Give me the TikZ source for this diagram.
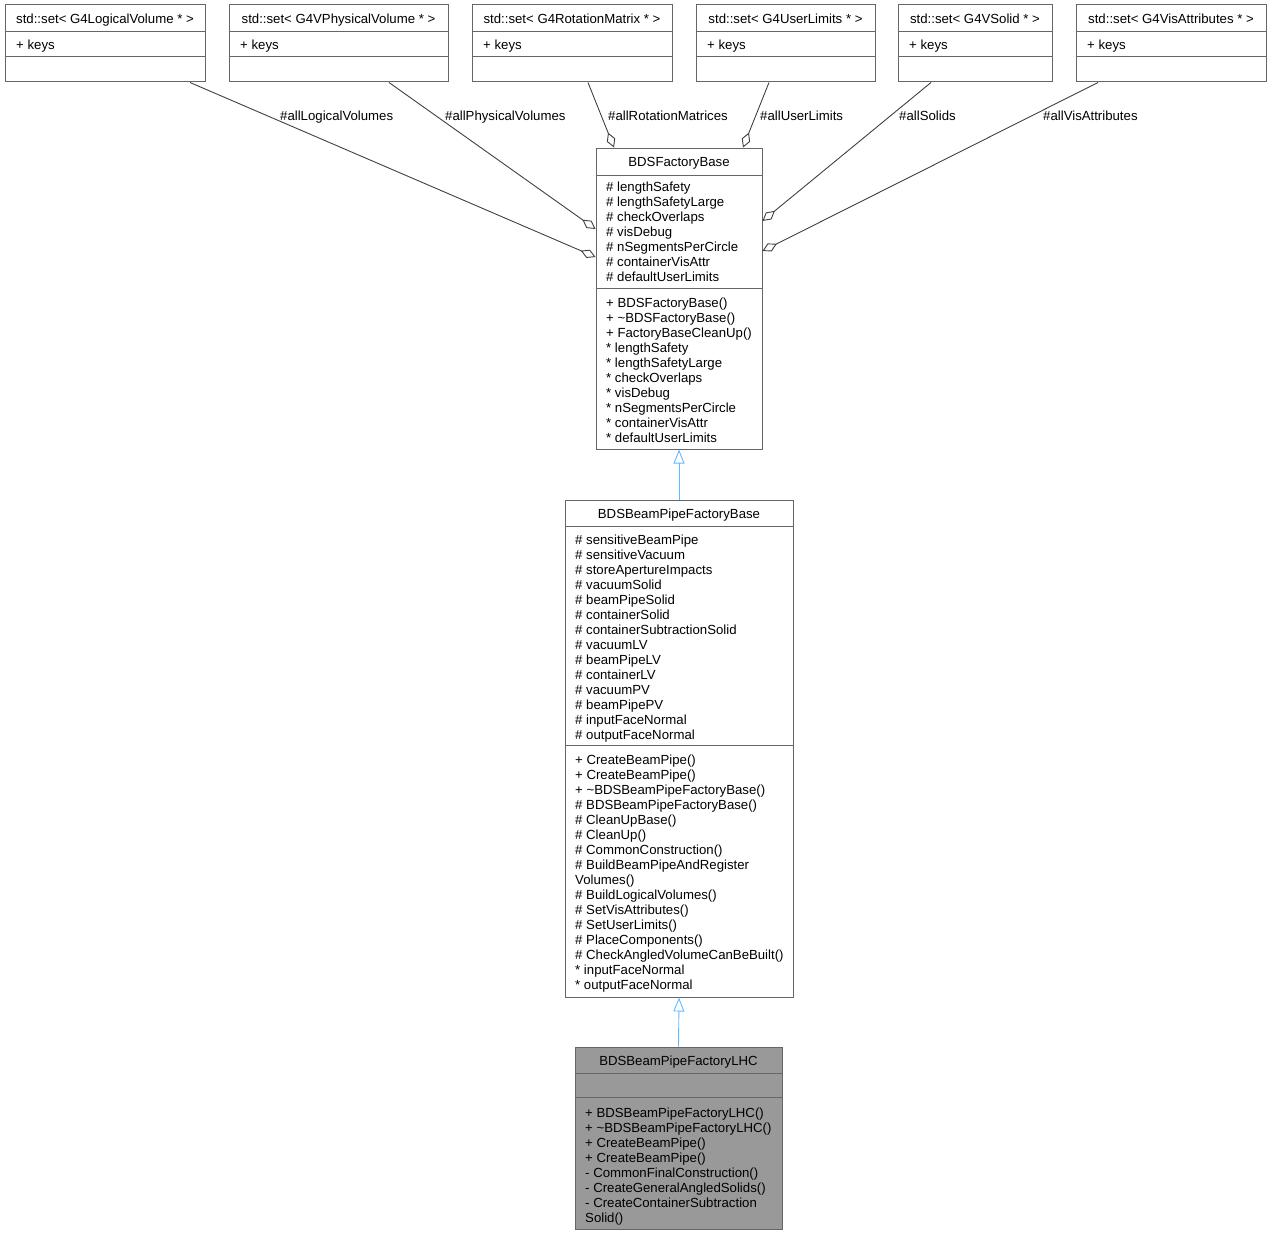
\documentclass[tikz,border=0pt]{standalone}
\usepackage{fontspec}
\setmainfont{Liberation Sans}
\usetikzlibrary{arrows.meta,calc}
\definecolor{boxgray}{HTML}{666666}
\definecolor{edgegray}{HTML}{404040}
\definecolor{lhcfill}{HTML}{999999}
\definecolor{inhblue}{HTML}{63B8FF}
\tikzset{
  cls/.style={draw=boxgray, line width=1pt, inner sep=0pt},
  sepline/.style={boxgray, line width=1pt},
  ttl/.style={font=\fontsize{13.2}{15}\selectfont, inner sep=0pt, text height=9.4pt, text depth=0pt},
  mem/.style={font=\fontsize{13.2}{15}\selectfont, inner sep=0pt, anchor=north west, align=left},
  elabel/.style={ttl, anchor=west},
  aggr/.style={edgegray, line width=0.9pt, -{Diamond[open,length=16pt,width=9pt]}},
  inherit/.style={inhblue, line width=0.9pt, -{Triangle[open,length=14pt,width=11pt]}},
}
\begin{document}
\begin{tikzpicture}[x=1pt,y=-1pt]
\useasboundingbox (0,0) rectangle (1271,1236);
% std::set boxes along the top
\node[cls, minimum width=200, minimum height=77] (lv) at (105,43.5) {};
\node[cls, minimum width=219, minimum height=77] (pv) at (338.5,43.5) {};
\node[cls, minimum width=200, minimum height=77] (rm) at (572,43.5) {};
\node[cls, minimum width=179, minimum height=77] (ul) at (785.5,43.5) {};
\node[cls, minimum width=154, minimum height=77] (so) at (975,43.5) {};
\node[cls, minimum width=190, minimum height=77] (va) at (1171,43.5) {};
\draw[sepline] ($(lv.north west)+(0,27)$) -- ($(lv.north east)+(0,27)$);
\draw[sepline] ($(lv.north west)+(0,52)$) -- ($(lv.north east)+(0,52)$);
\draw[sepline] ($(pv.north west)+(0,27)$) -- ($(pv.north east)+(0,27)$);
\draw[sepline] ($(pv.north west)+(0,52)$) -- ($(pv.north east)+(0,52)$);
\draw[sepline] ($(rm.north west)+(0,27)$) -- ($(rm.north east)+(0,27)$);
\draw[sepline] ($(rm.north west)+(0,52)$) -- ($(rm.north east)+(0,52)$);
\draw[sepline] ($(ul.north west)+(0,27)$) -- ($(ul.north east)+(0,27)$);
\draw[sepline] ($(ul.north west)+(0,52)$) -- ($(ul.north east)+(0,52)$);
\draw[sepline] ($(so.north west)+(0,27)$) -- ($(so.north east)+(0,27)$);
\draw[sepline] ($(so.north west)+(0,52)$) -- ($(so.north east)+(0,52)$);
\draw[sepline] ($(va.north west)+(0,27)$) -- ($(va.north east)+(0,27)$);
\draw[sepline] ($(va.north west)+(0,52)$) -- ($(va.north east)+(0,52)$);
\node[ttl] (lvT) at (105,18.5) {std::set< G4LogicalVolume * >};
\node[ttl] (pvT) at (338.5,18.5) {std::set< G4VPhysicalVolume * >};
\node[ttl] (rmT) at (572,18.5) {std::set< G4RotationMatrix * >};
\node[ttl] (ulT) at (785.5,18.5) {std::set< G4UserLimits * >};
\node[ttl] (soT) at (975,18.5) {std::set< G4VSolid * >};
\node[ttl] (vaT) at (1171,18.5) {std::set< G4VisAttributes * >};
\node[ttl, anchor=west] (lvK) at (16,44.5) {+ keys};
\node[ttl, anchor=west] (pvK) at (240,44.5) {+ keys};
\node[ttl, anchor=west] (rmK) at (483,44.5) {+ keys};
\node[ttl, anchor=west] (ulK) at (707,44.5) {+ keys};
\node[ttl, anchor=west] (soK) at (909,44.5) {+ keys};
\node[ttl, anchor=west] (vaK) at (1087,44.5) {+ keys};

% BDSFactoryBase
\node[cls, minimum width=166, minimum height=301] (fb) at (679,298.5) {};
\draw[sepline] ($(fb.north west)+(0,28)$) -- ($(fb.north east)+(0,28)$);
\draw[sepline] ($(fb.north west)+(0,141)$) -- ($(fb.north east)+(0,141)$);
\node[ttl] (fbT) at (679,161.5) {BDSFactoryBase};
\node[mem] (fbA) at (606,182) {\# lengthSafety\\\# lengthSafetyLarge\\\# checkOverlaps\\\# visDebug\\\# nSegmentsPerCircle\\\# containerVisAttr\\\# defaultUserLimits};
\node[mem] (fbM) at (606,298) {+ BDSFactoryBase()\\+ \textasciitilde BDSFactoryBase()\\+ FactoryBaseCleanUp()\\* lengthSafety\\* lengthSafetyLarge\\* checkOverlaps\\* visDebug\\* nSegmentsPerCircle\\* containerVisAttr\\* defaultUserLimits};

% BDSBeamPipeFactoryBase
\node[cls, minimum width=228, minimum height=497] (bpfb) at (679,748.5) {};
\draw[sepline] ($(bpfb.north west)+(0,27)$) -- ($(bpfb.north east)+(0,27)$);
\draw[sepline] ($(bpfb.north west)+(0,246)$) -- ($(bpfb.north east)+(0,246)$);
\node[ttl] (bpfbT) at (679,513.5) {BDSBeamPipeFactoryBase};
\node[mem] (bpfbA) at (575,535) {\# sensitiveBeamPipe\\\# sensitiveVacuum\\\# storeApertureImpacts\\\# vacuumSolid\\\# beamPipeSolid\\\# containerSolid\\\# containerSubtractionSolid\\\# vacuumLV\\\# beamPipeLV\\\# containerLV\\\# vacuumPV\\\# beamPipePV\\\# inputFaceNormal\\\# outputFaceNormal};
\node[mem] (bpfbM) at (575,755) {+ CreateBeamPipe()\\+ CreateBeamPipe()\\+ \textasciitilde BDSBeamPipeFactoryBase()\\\# BDSBeamPipeFactoryBase()\\\# CleanUpBase()\\\# CleanUp()\\\# CommonConstruction()\\\# BuildBeamPipeAndRegister\\Volumes()\\\# BuildLogicalVolumes()\\\# SetVisAttributes()\\\# SetUserLimits()\\\# PlaceComponents()\\\# CheckAngledVolumeCanBeBuilt()\\* inputFaceNormal\\* outputFaceNormal};

% BDSBeamPipeFactoryLHC
\node[cls, fill=lhcfill, minimum width=207, minimum height=182] (lhc) at (678.5,1138) {};
\draw[sepline] ($(lhc.north west)+(0,27)$) -- ($(lhc.north east)+(0,27)$);
\draw[sepline] ($(lhc.north west)+(0,51)$) -- ($(lhc.north east)+(0,51)$);
\node[ttl] (lhcT) at (678.5,1060.5) {BDSBeamPipeFactoryLHC};
\node[mem] (lhcM) at (585,1108) {+ BDSBeamPipeFactoryLHC()\\+ \textasciitilde BDSBeamPipeFactoryLHC()\\+ CreateBeamPipe()\\+ CreateBeamPipe()\\- CommonFinalConstruction()\\- CreateGeneralAngledSolids()\\- CreateContainerSubtraction\\Solid()};

% aggregation
\draw[aggr] ($(lv.south)+(85,0)$) -- ($(fb.west)+(0,-41.5)$);
\draw[aggr] ($(pv.south)+(50.5,0)$) -- ($(fb.west)+(0,-69.5)$);
\draw[aggr] ($(rm.south)+(16,0)$) -- ($(fb.north)+(-65,0)$);
\draw[aggr] ($(ul.south)+(-16.5,0)$) -- ($(fb.north)+(64,0)$);
\draw[aggr] ($(so.south)+(-44,0)$) -- ($(fb.east)+(0,-77.5)$);
\draw[aggr] ($(va.south)+(-73,0)$) -- ($(fb.east)+(0,-47.5)$);
\node[elabel] (lvL) at (280,116) {\#allLogicalVolumes};
\node[elabel] (pvL) at (445,116) {\#allPhysicalVolumes};
\node[elabel] (rmL) at (608,116) {\#allRotationMatrices};
\node[elabel] (ulL) at (760,116) {\#allUserLimits};
\node[elabel] (soL) at (899,116) {\#allSolids};
\node[elabel] (vaL) at (1043,116) {\#allVisAttributes};

% inheritance
\draw[inherit] (bpfb.north) -- (fb.south);
\draw[inherit] (lhc.north) -- (bpfb.south);
\end{tikzpicture}
\end{document}
